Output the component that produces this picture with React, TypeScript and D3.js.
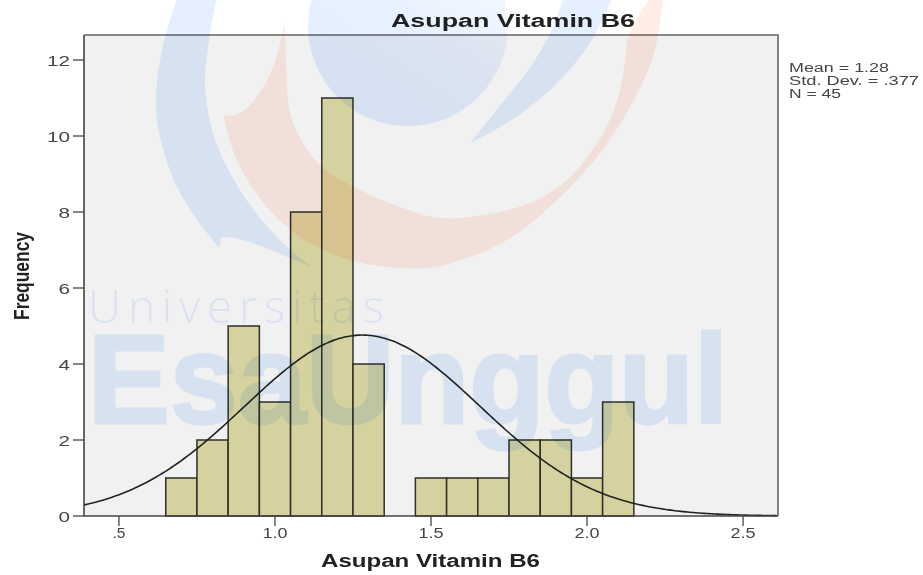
import React from "react";
import * as d3 from "d3";

const binStarts = [0.65, 0.75, 0.85, 0.95, 1.05, 1.15, 1.25, 1.35, 1.45, 1.55, 1.65, 1.75, 1.85, 1.95, 2.05];
const binCounts = [1, 2, 5, 3, 8, 11, 4, 0, 1, 1, 1, 2, 2, 1, 3];
const binWidth = 0.1;
const mean = 1.28;
const sd = 0.377;
const n = 45;
const xTicks = [0.5, 1.0, 1.5, 2.0, 2.5];
const xTickLabels = [".5", "1.0", "1.5", "2.0", "2.5"];
const yTicks = [0, 2, 4, 6, 8, 10, 12];
const curveXs = d3.range(0.388, 2.612, 0.01);

// Background watermark outlines (page pixels)
const blueLeft: [number, number][] = [[178, -4], [162, 50], [156, 110], [168, 165], [187, 205], [219, 248]];
const blueLeftInner: [number, number][] = [[312, 267], [283, 243], [250, 205], [227, 167], [213, 133], [205, 85], [209, 40], [217, -4]];
const blueRightOuter: [number, number][] = [[613, -4], [590, 43], [550, 90], [507, 123], [470, 143]];
const blueRightInner: [number, number][] = [[507, 97], [533, 63], [553, 27], [564, -4]];
const orangeOuter: [number, number][] = [[224, 115], [228, 135], [240, 167], [267, 207], [300, 237], [350, 260], [400, 268], [440, 266], [507, 240], [557, 200], [597, 157], [630, 107], [653, 57], [664, -4]];
const orangeInner: [number, number][] = [[652, -4], [637, 18], [628, 38], [624, 70], [615, 107], [597, 143], [567, 180], [530, 203], [483, 215], [440, 218], [400, 207], [360, 190], [320, 165], [292, 120], [286, 60], [285, 22]];
const orangeNotch: [number, number][] = [[285, 22], [272, 70], [250, 105], [236, 115], [224, 115]];

const W = 923, H = 575;
const x = d3.scaleLinear().domain([0.388, 2.612]).range([84, 778]);
const y = d3.scaleLinear().domain([0, 12]).range([516, 60]);
const pdf = (v: number) => (n * binWidth) / (sd * Math.sqrt(2 * Math.PI)) * Math.exp(-((v - mean) ** 2) / (2 * sd * sd));
const curve = d3.line<number>().x((v) => x(v)).y((v) => y(pdf(v))).curve(d3.curveBasis);
const smooth = d3.line<[number, number]>().curve(d3.curveCatmullRom);
const seg = (pts: [number, number][]) => (smooth(pts) || "").replace(/^M/, "L");
const sans = "'Liberation Sans', Arial, sans-serif";

export default function App() {
  const blueA = (smooth(blueLeft) || "") + "L221,238C238,233 280,255 312,267" + seg(blueLeftInner) + "Z";
  const blueB = (smooth(blueRightOuter) || "") + seg(blueRightInner) + "Z";
  const orange = (smooth(orangeOuter) || "") + seg(orangeInner) + seg(orangeNotch) + "Z";
  return (
    <svg width={W} height={H} viewBox={`0 0 ${W} ${H}`} style={{ position: "absolute", left: 0, top: 0, background: "#fff" }}>
      <defs>
        <filter id="soft" x="-2%" y="-2%" width="104%" height="104%">
          <feGaussianBlur stdDeviation="0.45" />
        </filter>
        <linearGradient id="disc" x1="1" y1="0" x2="0.3" y2="1">
          <stop offset="0" stopColor="#fbfdff" />
          <stop offset="0.55" stopColor="#e8f1ff" />
          <stop offset="1" stopColor="#e2eeff" />
        </linearGradient>
      </defs>
      <g filter="url(#soft)" fontFamily={sans}>
        <rect x={84} y={35} width={694} height={481} fill="#f1f1f1" />
        {binStarts.map((s, i) =>
          binCounts[i] > 0 ? (
            <rect key={s} x={x(s)} y={y(binCounts[i])} width={x(s + binWidth) - x(s)} height={y(0) - y(binCounts[i])}
              fill="#d6d2a0" stroke="#2f2f2a" strokeWidth={1.5} />
          ) : null
        )}
        <path d={curve(curveXs) || ""} fill="none" stroke="#222" strokeWidth={1.6} />
        <path d="M84,35H778V516" fill="none" stroke="#666" strokeWidth={1.6} />
        <path d="M84,35V516H778" fill="none" stroke="#444" strokeWidth={1.6} />
        {yTicks.map((t) => (
          <g key={t}>
            <line x1={73} x2={84} y1={y(t)} y2={y(t)} stroke="#444" strokeWidth={1.3} />
            <text x={70} y={y(t) + 6} textAnchor="end" fontSize={15} fill="#444"
              textLength={String(t).length * 11.5} lengthAdjust="spacingAndGlyphs">{t}</text>
          </g>
        ))}
        {xTicks.map((t, i) => (
          <g key={t}>
            <line x1={x(t)} x2={x(t)} y1={516} y2={526} stroke="#444" strokeWidth={1.3} />
            <text x={x(t)} y={538} textAnchor="middle" fontSize={15} fill="#444"
              textLength={xTickLabels[i].length === 2 ? 13 : 25} lengthAdjust="spacingAndGlyphs">{xTickLabels[i]}</text>
          </g>
        ))}
        <text x={513} y={27} textAnchor="middle" fontSize={18} fontWeight={700} fill="#222"
          textLength={244} lengthAdjust="spacingAndGlyphs">Asupan Vitamin B6</text>
        <text x={430.5} y={567} textAnchor="middle" fontSize={18} fontWeight={700} fill="#222"
          textLength={219} lengthAdjust="spacingAndGlyphs">Asupan Vitamin B6</text>
        <text transform="translate(29,276) rotate(-90)" textAnchor="middle" fontSize={22} fontWeight={700} fill="#222"
          textLength={88} lengthAdjust="spacingAndGlyphs">Frequency</text>
        <text x={789} y={72} fontSize={12} fill="#444" textLength={100} lengthAdjust="spacingAndGlyphs">Mean = 1.28</text>
        <text x={789} y={85} fontSize={12} fill="#444" textLength={130} lengthAdjust="spacingAndGlyphs">Std. Dev. = .377</text>
        <text x={789} y={98} fontSize={12} fill="#444" textLength={52} lengthAdjust="spacingAndGlyphs">N = 45</text>
      </g>
      <g style={{ mixBlendMode: "multiply" }}>
        <circle cx={408} cy={26} r={100} fill="url(#disc)" />
        <path d={blueA} fill="#e4f0ff" />
        <path d={blueB} fill="#e4f0ff" />
        <path d={orange} fill="#ffede6" />
        <text x={88} y={323} fontFamily="'Open Sans', sans-serif" fontWeight={300} fontSize={46} fill="#e8f1ff"
          textLength={296} lengthAdjust="spacing">Universitas</text>
        <text x={88} y={423} fontFamily={sans} fontWeight={700} fontSize={126} fill="#e4f0ff" stroke="#e4f0ff" strokeWidth={3}
          textLength={640} lengthAdjust="spacingAndGlyphs">EsaUnggul</text>
      </g>
    </svg>
  );
}
